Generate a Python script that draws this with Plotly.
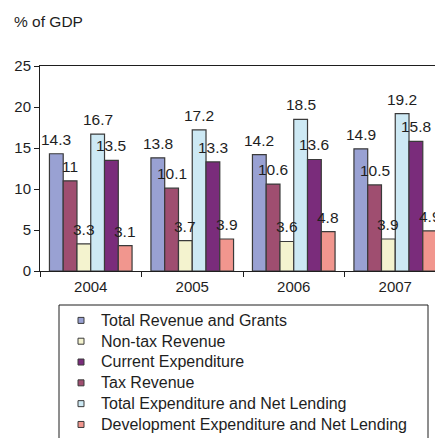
import plotly.graph_objects as go

# Fiscal indicators, % of GDP
years = ["2004", "2005", "2006", "2007"]
total_revenue = [14.3, 13.8, 14.2, 14.9]
tax_revenue = [11.0, 10.1, 10.6, 10.5]
non_tax_revenue = [3.3, 3.7, 3.6, 3.9]
total_expenditure = [16.7, 17.2, 18.5, 19.2]
current_expenditure = [13.5, 13.3, 13.6, 15.8]
development_expenditure = [3.1, 3.9, 4.8, 4.9]

# (name, values, colour, legend rank) in bar order within each year
series = [
    ("Total Revenue and Grants", total_revenue, "#99a1d3", 1),
    ("Tax Revenue", tax_revenue, "#9f4e70", 4),
    ("Non-tax Revenue", non_tax_revenue, "#f4f3cf", 2),
    ("Total Expenditure and Net Lending", total_expenditure, "#cde9f4", 5),
    ("Current Expenditure", current_expenditure, "#7a2c7b", 3),
    ("Development Expenditure and Net Lending", development_expenditure, "#f1968e", 6),
]

FONT = "Liberation Sans, Arial, sans-serif"
INK = "#1e1e1e"
OUTLINE = "#3a3a3a"

W, H = 435, 438
M_L, M_R, M_T, M_B = 40, 0, 66, 167
CAT_PX = 101.5          # width of one year slot in pixels
BARGAP = 0.186
n = len(series)
bar_px = CAT_PX * (1 - BARGAP) / n
plot_w = W - M_L - M_R
plot_h = H - M_T - M_B
x_hi = -0.5 + plot_w / CAT_PX   # last year runs past the right edge

fig = go.Figure()

for name, vals, col, rank in series:
    fig.add_trace(go.Bar(
        x=years, y=vals, name=name, showlegend=False,
        marker=dict(color=col, line=dict(color=OUTLINE, width=1.2)),
        hoverinfo="x+y+name",
    ))

# small square swatches for the legend
for name, vals, col, rank in series:
    fig.add_trace(go.Scatter(
        x=[None], y=[None], mode="markers", legendrank=rank,
        name=f'<span style="font-size:16px">{name}</span>',
        marker=dict(symbol="square", size=6, color=col,
                    line=dict(color=OUTLINE, width=1)),
    ))

# value labels above each bar (x given as the category index)
annotations = []
for i, (name, vals, col, rank) in enumerate(series):
    for j, v in enumerate(vals):
        annotations.append(dict(
            x=j, y=v, xref="x", yref="y", text=f"{v:g}",
            showarrow=False, xanchor="center", yanchor="bottom",
            xshift=(i - (n - 1) / 2) * bar_px, yshift=4,
            font=dict(family=FONT, size=15.5, color=INK),
        ))

fig.update_layout(
    width=W, height=H,
    margin=dict(l=M_L, r=M_R, t=M_T, b=M_B, pad=0, autoexpand=False),
    paper_bgcolor="white", plot_bgcolor="white",
    barmode="group", bargap=BARGAP, bargroupgap=0,
    font=dict(family=FONT, size=15, color=INK),
    title=dict(text="% of GDP", xref="container", yref="container",
               x=14 / W, y=1 - 22 / H, xanchor="left", yanchor="middle",
               font=dict(family=FONT, size=15.5, color=INK)),
    xaxis=dict(
        type="category", range=[-0.5, x_hi],
        showline=True, linecolor=INK, linewidth=1, mirror=True,
        ticks="outside", tickson="boundaries", ticklen=5, tickcolor=INK,
        ticklabelstandoff=2,
        showgrid=False, zeroline=False,
        tickfont=dict(family=FONT, size=15, color=INK),
    ),
    yaxis=dict(
        range=[0, 25], dtick=5, showline=True, linecolor=INK, linewidth=1,
        ticks="outside", ticklen=5, tickcolor=INK,
        showgrid=False, zeroline=False,
        tickfont=dict(family=FONT, size=15, color=INK),
    ),
    legend=dict(
        x=(61 - M_L) / plot_w, y=-(305 - (M_T + plot_h)) / plot_h,
        xanchor="left", yanchor="top",
        bgcolor="rgba(0,0,0,0)", borderwidth=0,
        font=dict(family=FONT, size=13.7, color=INK),
        traceorder="normal",
    ),
    shapes=[dict(
        type="rect", xref="paper", yref="paper", layer="above",
        x0=(59 - M_L) / plot_w, x1=(428 - M_L) / plot_w,
        y0=-(305 - (M_T + plot_h)) / plot_h, y1=-(460 - (M_T + plot_h)) / plot_h,
        line=dict(color=INK, width=1), fillcolor="rgba(0,0,0,0)",
    )],
    annotations=annotations,
    showlegend=True,
)

fig.write_html("out.html")
